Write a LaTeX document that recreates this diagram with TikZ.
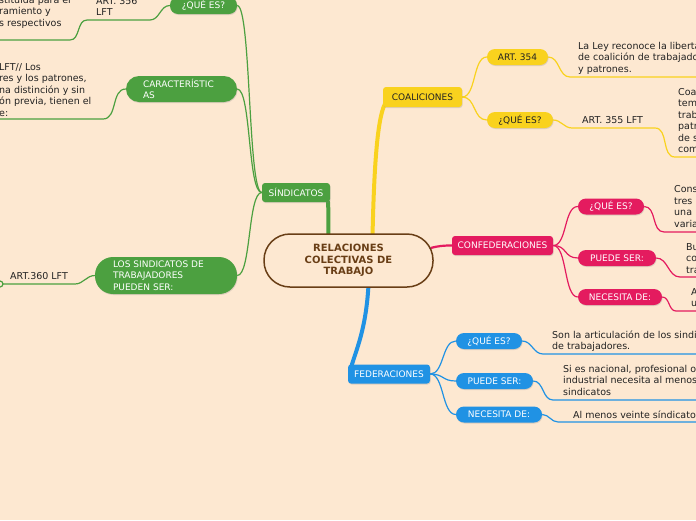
\documentclass[tikz,border=0pt]{standalone}
\usepackage{fontspec}
\setmainfont{DejaVu Sans}
\usepackage{xcolor}
\usetikzlibrary{shadows, calc, backgrounds}

\definecolor{bgpeach}{RGB}{253,232,209}
\definecolor{sindgreen}{RGB}{76,160,64}
\definecolor{coalyellow}{RGB}{249,210,30}
\definecolor{confpink}{RGB}{228,27,95}
\definecolor{fedblue}{RGB}{32,146,228}
\definecolor{titlebrown}{RGB}{105,62,22}
\definecolor{bodytext}{RGB}{34,34,34}

\begin{document}
\begin{tikzpicture}[x=1pt, y=-1pt]
        % Styles
        \tikzset{
            topicblock/.style={rectangle, rounded corners=3pt, minimum height=19pt, inner sep=0pt, align=center, text=white, font=\fontsize{9}{11.5}\selectfont, drop shadow={shadow xshift=0.6pt, shadow yshift=-1pt, opacity=0.25}},
            pillblock/.style={rectangle, rounded corners=8pt, minimum height=16pt, inner sep=0pt, align=center, text=white, font=\fontsize{9}{11.5}\selectfont, drop shadow={shadow xshift=0.6pt, shadow yshift=-1pt, opacity=0.25}},
            notetext/.style={inner sep=0pt, anchor=base west, align=left, text=bodytext, font=\fontsize{9.5}{11.5}\selectfont},
            thinlink/.style={line width=1.2pt},
            mainlink/.style={line width=4pt, line cap=round}
        }
        \useasboundingbox (0,0) rectangle (696,520);
        \clip (0,0) rectangle (696,520);

        % Main topic
        \node [draw=titlebrown, line width=1.5pt, fill=bgpeach, rounded corners=26pt, minimum width=169pt, minimum height=53pt, inner sep=0pt, align=center, text=titlebrown, font=\bfseries\fontsize{10}{11.5}\selectfont] (rel) at (348.5,260.5) {RELACIONES\\COLECTIVAS DE\\TRABAJO};

        % Topics
        \node [topicblock, fill=sindgreen, minimum width=68pt] (sind) at (296,192.5) {SÍNDICATOS};
        \node [topicblock, fill=coalyellow, text=bodytext, minimum width=79pt, minimum height=20pt] (coal) at (422.5,97) {COALICIONES};
        \node [topicblock, fill=confpink, minimum width=101pt] (conf) at (502.5,245.5) {CONFEDERACIONES};
        \node [topicblock, fill=fedblue, minimum width=82pt] (fed) at (389,374) {FEDERACIONES};

        % Sindicatos (base of a note = its last line)
        \node [pillblock, fill=sindgreen, minimum width=67pt, minimum height=17pt] (sindque) at (203.5,5.5) {¿QUÉ ES?};
        \node [pillblock, fill=sindgreen, minimum width=111pt, minimum height=26pt, rounded corners=13pt, text width=77pt, align=left] (sindcar) at (181.5,89) {CARACTERÍSTIC\\AS};
        \node [pillblock, fill=sindgreen, minimum width=142pt, minimum height=37pt, rounded corners=18pt, text width=106pt, align=left] (sindpue) at (166,275.5) {LOS SINDICATOS DE\\TRABAJADORES\\PUEDEN SER:};
        \node [notetext] (n356) at (96,15.5) {ART. 356\\LFT};
        \node [notetext] (n356def) at (-1,26) {stituida para el\\ramiento y\\s respectivos};
        \node [notetext] (ncar) at (-1,116) {LFT// Los\\res y los patrones,\\na distinción y sin\\ón previa, tienen el\\e:};
        \node [notetext] (n360) at (10,279) {ART.360 LFT};

        % Coaliciones
        \node [pillblock, fill=coalyellow, text=bodytext, minimum width=61pt] (art354) at (517.5,57) {ART. 354};
        \node [pillblock, fill=coalyellow, text=bodytext, minimum width=66pt] (coalque) at (520,120) {¿QUÉ ES?};
        \node [notetext] (n354) at (578,72) {La Ley reconoce la libertad\\de coalición de trabajadores\\y patrones.};
        \node [notetext] (n355) at (582,123) {ART. 355 LFT};
        \node [notetext] (n355def) at (678,152.5) {Coalición\\temporal\\trabajadores\\patrones\\de sus\\comunes.};

        % Confederaciones
        \node [pillblock, fill=confpink, minimum width=66pt] (confque) at (611,206.5) {¿QUÉ ES?};
        \node [pillblock, fill=confpink, minimum width=78pt] (confpue) at (617,258) {PUEDE SER:};
        \node [pillblock, fill=confpink, minimum width=84pt] (confnec) at (620,297) {NECESITA DE:};
        \node [notetext] (nconfque) at (674,227) {Constituida\\tres\\una\\varias};
        \node [notetext] (nconfpue) at (686,273) {Bu\\co\\tra};
        \node [notetext] (nconfnec) at (691,306.5) {A\\u};

        % Federaciones
        \node [pillblock, fill=fedblue, minimum width=66pt] (fedque) at (489,341) {¿QUÉ ES?};
        \node [pillblock, fill=fedblue, minimum width=77pt] (fedpue) at (494.5,381) {PUEDE SER:};
        \node [pillblock, fill=fedblue, minimum width=86pt] (fednec) at (499,414.5) {NECESITA DE:};
        \node [notetext] (nfedque) at (552,349.5) {Son la articulación de los sindicatos\\de trabajadores.};
        \node [notetext] (nfedpue) at (563,395) {Si es nacional, profesional o\\industrial necesita al menos\\sindicatos};
        \node [notetext] (nfednec) at (573,418) {Al menos veinte síndicatos};

        % Underline ends
        \coordinate (u356a) at (150,20);
        \coordinate (u356b) at (87,20);
        \coordinate (u356c) at (70,40);
        \coordinate (u356d) at (-5,40);
        \coordinate (ucara) at (103,119);
        \coordinate (ucarb) at (-5,119);
        \coordinate (u360a) at (75,284);
        \coordinate (u360b) at (0,284);
        \coordinate (u354a) at (570,77);
        \coordinate (u354b) at (700,77);
        \coordinate (u355a) at (572,128);
        \coordinate (u355b) at (655,128);
        \coordinate (u355c) at (675,157);
        \coordinate (u355d) at (700,157);
        \coordinate (ucqa) at (664,232);
        \coordinate (ucqb) at (700,232);
        \coordinate (ucpa) at (680,277);
        \coordinate (ucpb) at (700,277);
        \coordinate (ucna) at (676,311);
        \coordinate (ucnb) at (700,311);
        \coordinate (ufqa) at (543,354);
        \coordinate (ufqb) at (700,354);
        \coordinate (ufpa) at (553,400);
        \coordinate (ufpb) at (700,400);
        \coordinate (ufna) at (558,422);
        \coordinate (ufnb) at (700,422);

        % Links
        \begin{scope}[on background layer]
            \fill [bgpeach] (0,0) rectangle (696,520);
            \draw [mainlink, sindgreen] ($(rel.north)+(-20,3)$) -- ($(sind.south east)+(-2,0)$);
            \draw [mainlink, coalyellow] ($(rel.north)+(24,3)$) .. controls (374,170) and (377,120) .. ($(coal.south west)+(2,-3)$);
            \draw [mainlink, fedblue] ($(rel.south)+(20,-3)$) .. controls (366,330) and (356,350) .. ($(fed.north west)+(3,4)$);
            \draw [line width=2.2pt, confpink] ($(rel.east)+(-3,-12.5)$) to[out=15, in=180] (conf.west);

            \foreach \kid in {sindque, sindcar, sindpue}
                \draw [thinlink, sindgreen] (\kid.east) .. controls +(14,0) and +(-14,0) .. (sind.west);
            \draw [thinlink, sindgreen] (sindque.west) to[out=180, in=0] (u356a) -- (u356b) to[out=180, in=0] (u356c) -- (u356d);
            \draw [thinlink, sindgreen] (sindcar.west) to[out=180, in=0] (ucara) -- (ucarb);
            \draw [thinlink, sindgreen] (sindpue.west) to[out=180, in=0] (u360a) -- (u360b);
            \draw [thinlink, sindgreen, fill=bgpeach] (u360b) circle (3pt);

            \foreach \kid in {art354, coalque}
                \draw [thinlink, coalyellow] (coal.east) .. controls +(14,0) and +(-14,0) .. (\kid.west);
            \draw [thinlink, coalyellow] (art354.east) to[out=0, in=180] (u354a) -- (u354b);
            \draw [thinlink, coalyellow] (coalque.east) to[out=0, in=180] (u355a) -- (u355b) to[out=0, in=180] (u355c) -- (u355d);

            \foreach \kid in {confque, confpue, confnec}
                \draw [thinlink, confpink] (conf.east) .. controls +(14,0) and +(-14,0) .. (\kid.west);
            \draw [thinlink, confpink] (confque.east) to[out=0, in=180] (ucqa) -- (ucqb);
            \draw [thinlink, confpink] (confpue.east) to[out=0, in=180] (ucpa) -- (ucpb);
            \draw [thinlink, confpink] (confnec.east) to[out=0, in=180] (ucna) -- (ucnb);

            \foreach \kid in {fedque, fedpue, fednec}
                \draw [thinlink, fedblue] (fed.east) .. controls +(14,0) and +(-14,0) .. (\kid.west);
            \draw [thinlink, fedblue] (fedque.east) to[out=0, in=180] (ufqa) -- (ufqb);
            \draw [thinlink, fedblue] (fedpue.east) to[out=0, in=180] (ufpa) -- (ufpb);
            \draw [thinlink, fedblue] (fednec.east) to[out=0, in=180] (ufna) -- (ufnb);
        \end{scope}
\end{tikzpicture}
\end{document}
